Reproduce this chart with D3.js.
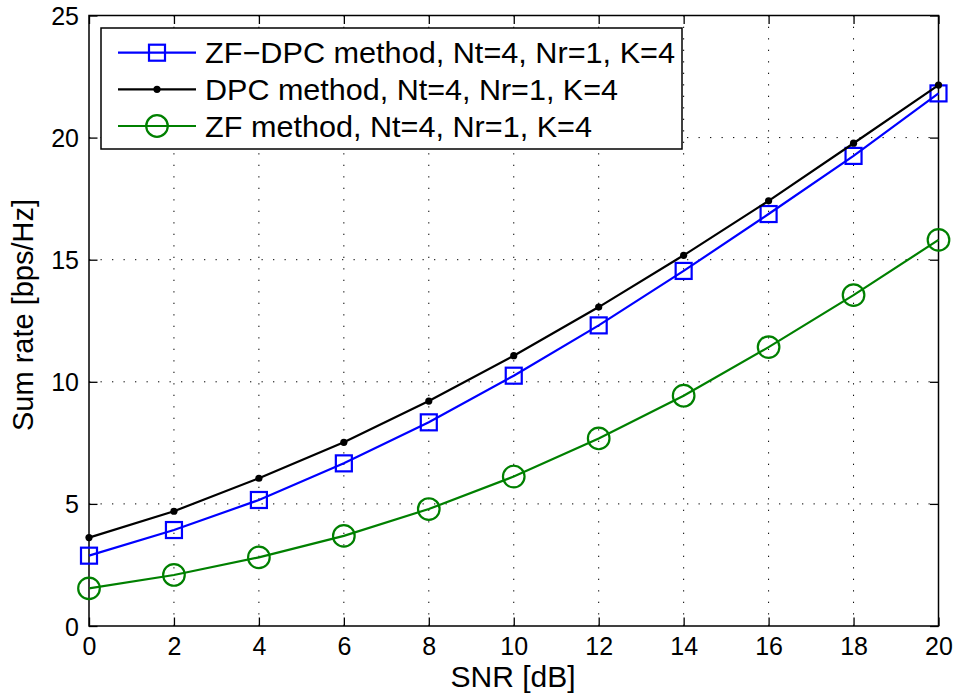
<!DOCTYPE html>
<html><head><meta charset="utf-8">
<script src="https://cdn.jsdelivr.net/npm/d3@7"></script>
<style>body{margin:0;background:#fff}svg{display:block}text{font-family:"Liberation Sans",Arial,sans-serif;fill:#000}</style>
</head><body><svg id="c" width="954" height="699"></svg>
<script>
const snr = [0,2,4,6,8,10,12,14,16,18,20];
const zfdpc = [2.88,3.93,5.16,6.66,8.34,10.25,12.31,14.54,16.87,19.25,21.81];
const dpc = [3.62,4.70,6.05,7.52,9.21,11.07,13.06,15.18,17.41,19.77,22.15];
const zf = [1.54,2.09,2.81,3.69,4.79,6.12,7.68,9.43,11.42,13.55,15.81];
const xTicks = [0,2,4,6,8,10,12,14,16,18,20];
const yTicks = [0,5,10,15,20,25];
const legendLabels = ["ZF\u2212DPC method, Nt=4, Nr=1, K=4","DPC method, Nt=4, Nr=1, K=4","ZF method, Nt=4, Nr=1, K=4"];

const svg = d3.select("#c");
const L=89, R=938.5, T=15.5, B=626;
const x = d3.scaleLinear().domain([0,20]).range([L,R]);
const y = d3.scaleLinear().domain([0,25]).range([B,T]);

// grid
const g = svg.append("g");
g.selectAll(".gx").data(xTicks.slice(1,-1)).join("line")
 .attr("x1",d=>x(d)).attr("x2",d=>x(d)).attr("y1",B).attr("y2",T)
 .attr("stroke","#000").attr("stroke-width",1).attr("stroke-dasharray","1.3,10.2");
g.selectAll(".gy").data(yTicks.slice(1,-1)).join("line")
 .attr("y1",d=>y(d)).attr("y2",d=>y(d)).attr("x1",L).attr("x2",R)
 .attr("stroke","#000").attr("stroke-width",1).attr("stroke-dasharray","1.3,10.2");

// axes
const fs=25;
const ax = svg.append("g").attr("transform",`translate(0,${B})`)
 .call(d3.axisBottom(x).tickValues(xTicks).tickSizeInner(-8.5).tickSizeOuter(0).tickPadding(11).tickFormat(d3.format("d")));
const ax2 = svg.append("g").attr("transform",`translate(0,${T})`)
 .call(d3.axisTop(x).tickValues(xTicks).tickSizeInner(-8.5).tickSizeOuter(0).tickFormat(""));
const ay = svg.append("g").attr("transform",`translate(${L},0)`)
 .call(d3.axisLeft(y).tickValues(yTicks).tickSizeInner(-8.5).tickSizeOuter(0).tickPadding(10).tickFormat(d3.format("d")));
const ay2 = svg.append("g").attr("transform",`translate(${R},0)`)
 .call(d3.axisRight(y).tickValues(yTicks).tickSizeInner(-8.5).tickSizeOuter(0).tickFormat(""));
[ax,ax2,ay,ay2].forEach(a=>{
  a.select(".domain").remove();
  a.selectAll("line").attr("stroke","#000").attr("stroke-width",1.3);
  a.selectAll("text").attr("font-size",fs).attr("font-family","Liberation Sans, Arial, sans-serif").attr("fill","#000");
});
ay.selectAll("text").attr("dy","0.36em");
ax.selectAll("text").attr("dy","0.71em");
svg.append("rect").attr("x",L).attr("y",T).attr("width",R-L).attr("height",B-T)
 .attr("fill","none").attr("stroke","#000").attr("stroke-width",1.5);

// labels
svg.append("text").attr("x",513).attr("y",687).attr("text-anchor","middle").attr("font-size",30).text("SNR [dB]");
svg.append("text").attr("transform",`translate(33,315) rotate(-90)`).attr("text-anchor","middle").attr("font-size",29).text("Sum rate [bps/Hz]");

// series
const line = d3.line().x((d,i)=>x(snr[i])).y(d=>y(d));
const series = [
 {v:zfdpc,c:"#0000ff",m:"square"},
 {v:dpc,c:"#000000",m:"dot"},
 {v:zf,c:"#008000",m:"circle"}
];
function marker(sel,m,c){
  if(m==="square") sel.append("rect").attr("x",-8).attr("y",-8).attr("width",16).attr("height",16).attr("fill","none").attr("stroke",c).attr("stroke-width",2.2);
  else if(m==="circle") sel.append("circle").attr("r",10.8).attr("fill","none").attr("stroke",c).attr("stroke-width",2.2);
  else sel.append("circle").attr("r",3.6).attr("fill",c);
}
series.forEach(s=>{
  svg.append("path").attr("d",line(s.v)).attr("fill","none").attr("stroke",s.c).attr("stroke-width",2.2);
  s.v.forEach((d,i)=>{
    const mg = svg.append("g").attr("transform",`translate(${x(snr[i])},${y(d)})`);
    marker(mg,s.m,s.c);
  });
});

// legend
const lg = svg.append("g");
lg.append("rect").attr("x",101).attr("y",28).attr("width",581).attr("height",121).attr("fill","#fff").attr("stroke","#000").attr("stroke-width",1.5);
const rows=[52.7,89.3,126];
series.forEach((s,i)=>{
  lg.append("line").attr("x1",118).attr("x2",196).attr("y1",rows[i]).attr("y2",rows[i]).attr("stroke",s.c).attr("stroke-width",2.2);
  const mg = lg.append("g").attr("transform",`translate(157,${rows[i]})`);
  marker(mg,s.m,s.c);
  lg.append("text").attr("x",205).attr("y",rows[i]).attr("dy","0.36em").attr("font-size",29.5)
   .attr("textLength",[470,413,387][i]).attr("lengthAdjust","spacingAndGlyphs").text(legendLabels[i]);
});
</script></body></html>
